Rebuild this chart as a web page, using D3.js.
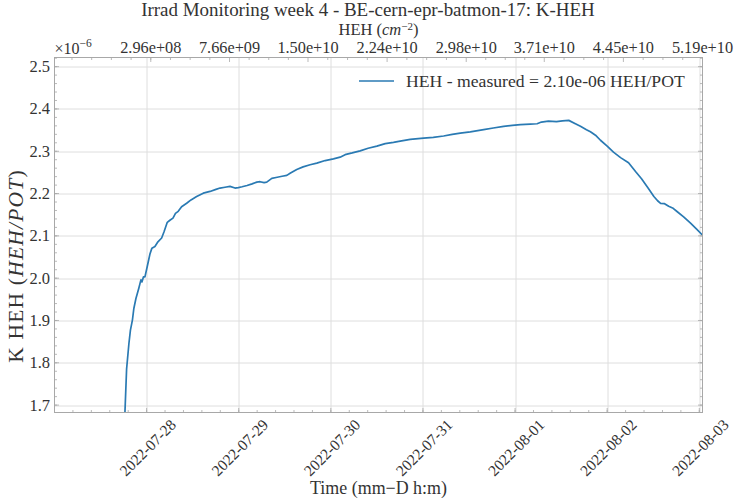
<!DOCTYPE html>
<html><head><meta charset="utf-8">
<script src="https://cdn.jsdelivr.net/npm/d3@7"></script>
<style>
body{margin:0;background:#fff}
svg{display:block}
text{font-family:"Liberation Serif","Times New Roman",serif;fill:#333}
</style>
</head><body>
<svg id="chart" width="736" height="504"></svg>
<script>
// ---- data (values in units of 1e-6 HEH/POT) ----
const times = [
"2022-07-27 18:20","2022-07-27 18:47","2022-07-27 19:23","2022-07-27 19:47","2022-07-27 20:18","2022-07-27 20:41",
"2022-07-27 21:13","2022-07-27 21:59","2022-07-27 22:31","2022-07-27 22:47","2022-07-27 23:10","2022-07-27 23:34",
"2022-07-28 00:09","2022-07-28 00:52","2022-07-28 01:23","2022-07-28 02:10","2022-07-28 02:57","2022-07-28 03:55",
"2022-07-28 04:31","2022-07-28 05:23","2022-07-28 06:04","2022-07-28 06:52","2022-07-28 07:31","2022-07-28 08:14",
"2022-07-28 09:07","2022-07-28 10:26","2022-07-28 11:34","2022-07-28 13:02","2022-07-28 14:46","2022-07-28 16:31",
"2022-07-28 18:04","2022-07-28 19:08","2022-07-28 20:25","2022-07-28 21:43","2022-07-28 23:02","2022-07-28 23:54",
"2022-07-29 00:52","2022-07-29 02:10","2022-07-29 03:29","2022-07-29 04:42","2022-07-29 05:34","2022-07-29 06:36",
"2022-07-29 07:18","2022-07-29 08:37","2022-07-29 09:43","2022-07-29 11:18","2022-07-29 12:32","2022-07-29 13:23",
"2022-07-29 15:07","2022-07-29 16:46","2022-07-29 18:36","2022-07-29 20:21","2022-07-29 22:31","2022-07-30 00:40",
"2022-07-30 02:25","2022-07-30 03:43","2022-07-30 05:34","2022-07-30 07:38","2022-07-30 09:43","2022-07-30 12:00",
"2022-07-30 14:10","2022-07-30 16:19","2022-07-30 18:04","2022-07-30 20:41","2022-07-31 00:10","2022-07-31 02:41",
"2022-07-31 05:23","2022-07-31 07:38","2022-07-31 09:43","2022-07-31 12:20","2022-07-31 15:49","2022-07-31 18:20",
"2022-07-31 21:01","2022-07-31 23:18","2022-08-01 01:23","2022-08-01 03:59","2022-08-01 05:44","2022-08-01 06:52",
"2022-08-01 08:41","2022-08-01 10:47","2022-08-01 12:20","2022-08-01 13:59","2022-08-01 15:43","2022-08-01 17:02",
"2022-08-01 18:36","2022-08-01 19:38","2022-08-01 20:57","2022-08-01 22:15","2022-08-02 00:00","2022-08-02 01:38",
"2022-08-02 03:29","2022-08-02 05:34","2022-08-02 07:23","2022-08-02 08:57","2022-08-02 10:31","2022-08-02 12:10",
"2022-08-02 13:08","2022-08-02 13:55","2022-08-02 14:57","2022-08-02 16:01","2022-08-02 17:02","2022-08-02 18:16",
"2022-08-02 19:55","2022-08-02 21:43","2022-08-02 23:18","2022-08-03 00:48"
];
const values = [
1.678,1.785,1.845,1.877,1.901,1.929,
1.952,1.977,1.996,1.991,2.003,2.003,
2.027,2.057,2.071,2.075,2.086,2.095,
2.109,2.132,2.137,2.142,2.153,2.158,
2.169,2.177,2.185,2.193,2.201,2.205,
2.210,2.213,2.215,2.217,2.213,2.214,
2.216,2.219,2.223,2.227,2.228,2.226,
2.227,2.236,2.238,2.241,2.243,2.248,
2.257,2.263,2.268,2.272,2.278,2.282,
2.286,2.292,2.296,2.301,2.307,2.312,
2.318,2.321,2.324,2.328,2.331,2.333,
2.336,2.340,2.343,2.346,2.351,2.355,
2.359,2.361,2.363,2.364,2.365,2.369,
2.371,2.370,2.372,2.373,2.365,2.359,
2.351,2.346,2.338,2.326,2.312,2.298,
2.285,2.273,2.252,2.235,2.215,2.193,
2.183,2.177,2.176,2.170,2.166,2.157,
2.145,2.130,2.116,2.102
];
const xTickDates = ["2022-07-28","2022-07-29","2022-07-30","2022-07-31","2022-08-01","2022-08-02","2022-08-03"];
const yTicks = [1.7,1.8,1.9,2.0,2.1,2.2,2.3,2.4,2.5];
const topTicks = [2.96e8,7.66e9,1.50e10,2.24e10,2.98e10,3.71e10,4.45e10,5.19e10];
const xDomain = ["2022-07-27 00:00","2022-08-03 00:50"];
const yDomain = [1.6825,2.5216];
const topDomain = [-8.71e9,5.19e10];
const titleText = "Irrad Monitoring week 4 - BE-cern-epr-batmon-17: K-HEH";
const legendLabel = "HEH - measured = 2.10e-06 HEH/POT";

// ---- layout ----
const W = 736, H = 504;
const m = {l:54.5, t:57.5, r:33.5, b:91.5};
const iw = W - m.l - m.r, ih = H - m.t - m.b;
const svg = d3.select("#chart");
const parseT = d3.timeParse("%Y-%m-%d %H:%M");
const parseD = d3.timeParse("%Y-%m-%d");
const data = times.map((t,i)=>({t:parseT(t), v:values[i]}));

const x = d3.scaleTime().domain(xDomain.map(parseT)).range([0, iw]);
const y = d3.scaleLinear().domain(yDomain).range([ih, 0]);
const xTop = d3.scaleLinear().domain(topDomain).range([0, iw]);

const gridC = "#dedede", spineC = "#a8a8a8", lineC = "#2a7ab3";

const g = svg.append("g").attr("transform", `translate(${m.l},${m.t})`);
svg.append("defs").append("clipPath").attr("id","clip")
  .append("rect").attr("width", iw).attr("height", ih);

// grid
const xMaj = xTickDates.map(parseD);
g.append("g").selectAll("line").data(xMaj).join("line")
  .attr("x1", d=>Math.round(x(d))+0.5).attr("x2", d=>Math.round(x(d))+0.5)
  .attr("y1",0).attr("y2",ih).attr("stroke",gridC).attr("stroke-width",1);
g.append("g").selectAll("line").data(yTicks).join("line")
  .attr("y1", d=>Math.round(y(d))+0.5).attr("y2", d=>Math.round(y(d))+0.5)
  .attr("x1",0).attr("x2",iw).attr("stroke",gridC).attr("stroke-width",1);

// data line
g.append("path").datum(data).attr("clip-path","url(#clip)")
  .attr("fill","none").attr("stroke",lineC).attr("stroke-width",1.7)
  .attr("stroke-linejoin","round")
  .attr("d", d3.line().x(d=>x(d.t)).y(d=>y(d.v)));

// spines
g.append("rect").attr("width",iw).attr("height",ih)
  .attr("fill","none").attr("stroke",spineC).attr("stroke-width",1);

// ticks (inward)
const tickG = g.append("g").attr("stroke",spineC).attr("stroke-width",0.8);
const dayMs = 864e5;
const xStart = parseT(xDomain[0]).getTime();
const xMinor = [];
for (let k=0;k<=7*5;k++){ const t=new Date(xStart + k*dayMs/5); if (x(t)>0 && x(t)<iw) xMinor.push(t); }
tickG.selectAll(".bm").data(xMinor).join("line")
  .attr("x1",d=>x(d)).attr("x2",d=>x(d)).attr("y1",ih).attr("y2",ih-2.5);
tickG.selectAll(".bM").data(xMaj).join("line")
  .attr("x1",d=>x(d)).attr("x2",d=>x(d)).attr("y1",ih).attr("y2",ih-4.5);
const yMinor = [];
for (let k=0;k<=42;k++){ const vv=+(1.68+k*0.02).toFixed(2); if (y(vv)>0 && y(vv)<ih) yMinor.push(vv); }
tickG.selectAll(".yl").data(yMinor).join("line")
  .attr("x1",0).attr("x2",2.5).attr("y1",d=>y(d)).attr("y2",d=>y(d));
tickG.selectAll(".yr").data(yMinor).join("line")
  .attr("x1",iw).attr("x2",iw-2.5).attr("y1",d=>y(d)).attr("y2",d=>y(d));
tickG.selectAll(".yL").data(yTicks).join("line")
  .attr("x1",0).attr("x2",4.5).attr("y1",d=>y(d)).attr("y2",d=>y(d));
tickG.selectAll(".yR").data(yTicks).join("line")
  .attr("x1",iw).attr("x2",iw-4.5).attr("y1",d=>y(d)).attr("y2",d=>y(d));
const topStep = (topTicks[topTicks.length-1]-topTicks[0])/(topTicks.length-1)/4;
const topMinor = [];
for (let v=topTicks[0]; v>topDomain[0]; v-=topStep) topMinor.push(v);
for (let i=0;i<topTicks.length-1;i++) for (let k=1;k<4;k++) topMinor.push(topTicks[i]+(topTicks[i+1]-topTicks[i])*k/4);
tickG.selectAll(".tm").data(topMinor).join("line")
  .attr("x1",d=>xTop(d)).attr("x2",d=>xTop(d)).attr("y1",0).attr("y2",2.5);
tickG.selectAll(".tM").data(topTicks).join("line")
  .attr("x1",d=>xTop(d)).attr("x2",d=>xTop(d)).attr("y1",0).attr("y2",4.5);

// tick labels
const fmtDay = d3.timeFormat("%Y-%m-%d");
g.append("g").selectAll("text").data(xMaj).join("text")
  .attr("transform", d=>`translate(${x(d)+1},${ih+35}) rotate(-45)`)
  .attr("text-anchor","middle").attr("dominant-baseline","central")
  .attr("font-size",15.5).text(d=>fmtDay(d));
g.append("g").selectAll("text").data(yTicks).join("text")
  .attr("x",-4.5).attr("y",d=>y(d)).attr("text-anchor","end").attr("dominant-baseline","central")
  .attr("font-size",16.5).text(d=>d.toFixed(1));
const fmtExp = v => { const [mant, ex] = v.toExponential(2).split("e"); const s = ex[0]; const n = ex.slice(1).padStart(2,"0"); return mant+"e"+s+n; };
g.append("g").selectAll("text").data(topTicks).join("text")
  .attr("x",d=>xTop(d)).attr("y",-4.5).attr("text-anchor","middle")
  .attr("font-size",16.3).text(fmtExp);

// offset text ×10^-6
const off = g.append("text").attr("x",0).attr("y",-4).attr("font-size",16);
off.append("tspan").text("×10");
off.append("tspan").attr("dy",-7).attr("font-size",11.5).text("−6");

function fit(sel, target){ const n = sel.node(); const fs = parseFloat(sel.attr("font-size")); const w = n.getComputedTextLength(); sel.attr("font-size", fs*target/w); }

// title
const title = svg.append("text").attr("x",368).attr("y",16).attr("text-anchor","middle").attr("font-size",17).text(titleText);
fit(title, 454);
// top axis label
const tl = svg.append("text").attr("x",m.l+iw/2).attr("y",35).attr("text-anchor","middle").attr("font-size",16.5);
tl.append("tspan").text("HEH (");
tl.append("tspan").attr("font-style","italic").text("cm");
tl.append("tspan").attr("dy",-5).attr("font-size",11).text("−2");
tl.append("tspan").attr("dy",5).text(")");
// x label
const xl = svg.append("text").attr("x",m.l+iw/2).attr("y",494).attr("text-anchor","middle").attr("font-size",16).text("Time (mm−D h:m)");
fit(xl, 137);
// y label
const yl = svg.append("text").attr("transform","translate(23,266) rotate(-90)").attr("text-anchor","middle")
  .attr("font-size",21.5).attr("letter-spacing",1.2);
yl.append("tspan").text("K HEH (");
yl.append("tspan").attr("font-style","italic").text("HEH/POT");
yl.append("tspan").text(")");

// legend
const lg = g.append("g");
lg.append("line").attr("x1",359-m.l).attr("x2",394-m.l).attr("y1",81-m.t).attr("y2",81-m.t)
  .attr("stroke",lineC).attr("stroke-width",1.7);
const lt = lg.append("text").attr("x",406-m.l).attr("y",81-m.t).attr("dominant-baseline","central").attr("font-size",16).text(legendLabel);
fit(lt, 279);
</script>
</body></html>
